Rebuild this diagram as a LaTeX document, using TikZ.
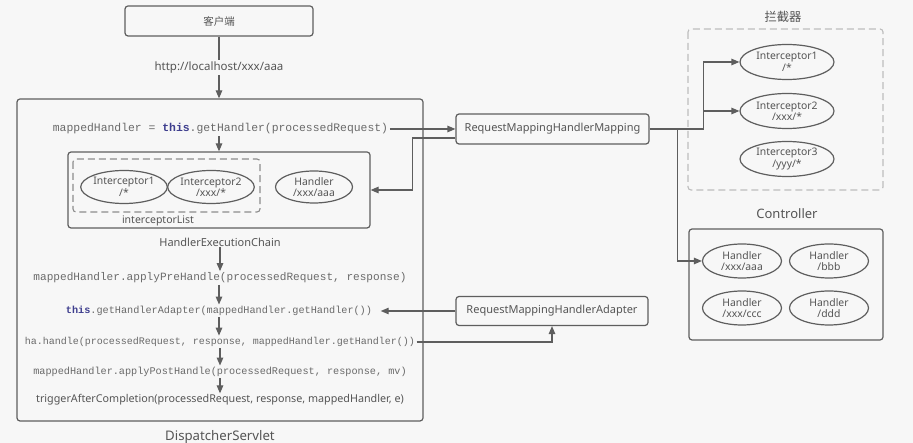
\documentclass[tikz,border=0pt]{standalone}
\usepackage{fontspec}
\setmainfont{Noto Sans}
\setmonofont{Liberation Mono}
\newfontfamily\cjk{Noto Sans CJK SC}
\usetikzlibrary{arrows.meta,shapes.geometric}
\definecolor{bg}{HTML}{F7F7F7}
\definecolor{ln}{HTML}{5E5E5E}
\definecolor{tx}{HTML}{555555}
\definecolor{cd}{HTML}{6A6A6A}
\definecolor{kw}{HTML}{3E3E8E}
\definecolor{dshA}{HTML}{8C8C8C}
\definecolor{dshB}{HTML}{BDBDBD}
\newcommand{\kwthis}{{\bfseries\color{kw}this}}
\begin{document}
\begin{tikzpicture}[x=1pt,y=-1pt,
  every node/.style={text=tx, font=\fontsize{10.5}{12}\selectfont},
  box/.style={draw=ln, line width=1.2pt, rounded corners=3pt, inner sep=0pt},
  oval/.style={draw=ln, line width=1.2pt, ellipse, inner sep=0pt, align=center,
    minimum width=78pt, minimum height=33pt, font=\fontsize{10.4}{11.5}\selectfont},
  code/.style={inner sep=1.5pt, text=cd, font=\ttfamily\fontsize{10.2}{12}\selectfont},
  arr/.style={draw=ln, line width=1.2pt, -{Triangle[length=8pt,width=6.5pt]}},
  con/.style={draw=ln, line width=1.2pt},
  lbl/.style={inner sep=1pt}]
\fill[bg] (0,0) rectangle (913,443);
\useasboundingbox (0,0) rectangle (913,443);

% client
\node[box, minimum width=188pt, minimum height=30pt] (client) at (219,21) {\cjk 客户端};

% DispatcherServlet
\node[box, minimum width=406pt, minimum height=322pt] (ds) at (220,260) {};
\node[lbl, font=\fontsize{13.2}{15}\selectfont] (dsl) at (220,437) {DispatcherServlet};

\draw[arr] (client.south) -- node[fill=bg, inner sep=2pt, text=tx, font=\fontsize{11.5}{13}\selectfont] {http://localhost/xxx/aaa} (ds.north -| client.south);

% code lines
\node[code, font=\ttfamily\fontsize{11.4}{13}\selectfont] (g1) at (220.5,129) {mappedHandler = \kwthis.getHandler(processedRequest)};

% HandlerExecutionChain
\node[box, minimum width=302pt, minimum height=76pt] (hec) at (219,190) {};
\draw[dshA, line width=1.1pt, dash pattern=on 7pt off 4pt, rounded corners=3pt] (73,159) rectangle (260,212);
\node[oval] (hi1) at (124,187) {Interceptor1\\/*};
\node[oval] (hi2) at (211,187) {Interceptor2\\/xxx/*};
\node[oval, minimum width=77pt, minimum height=32pt] (hh) at (314,187) {Handler\\/xxx/aaa};
\node[lbl] (ilist) at (158,221) {interceptorList};
\node[lbl, font=\fontsize{11}{12}\selectfont] (hecl) at (220,242) {HandlerExecutionChain};

\draw[arr] (g1.south -| hec.north) -- (hec.north);

\node[code, font=\ttfamily\fontsize{11.1}{13}\selectfont] (pre) at (220,278) {mappedHandler.applyPreHandle(processedRequest, response)};
\node[code] (ga) at (219,311) {\kwthis.getHandlerAdapter(mappedHandler.getHandler())};
\node[code, font=\ttfamily\fontsize{10}{12}\selectfont] (hd) at (220,342) {ha.handle(processedRequest, response, mappedHandler.getHandler())};
\node[code] (post) at (220,372) {mappedHandler.applyPostHandle(processedRequest, response, mv)};
\node[lbl, font=\fontsize{10.75}{12}\selectfont] (trig) at (220,400) {triggerAfterCompletion(processedRequest, response, mappedHandler, e)};

\draw[arr] (hecl.south) -- (pre.north -| hecl.south);
\draw[arr] (pre.south -| ga.south) -- (ga.north);
\draw[arr] (ga.south) -- (hd.north -| ga.south);
\draw[arr] (hd.south -| post.north) -- (post.north);
\draw[arr] (post.south) -- (trig.north -| post.south);

% RequestMapping boxes
\node[box, minimum width=193pt, minimum height=30pt, font=\fontsize{11}{12}\selectfont] (rmhm) at (552.5,129) {RequestMappingHandlerMapping};
\node[box, minimum width=192pt, minimum height=29pt, font=\fontsize{11}{12}\selectfont] (rmha) at (552,311) {RequestMappingHandlerAdapter};

\draw[arr] (g1.east) -- (rmhm.west);
\draw[arr] ([yshift=-9pt]rmhm.west) -- ++(-43,0) |- (hec.east);
\draw[arr, shorten >=7pt] (rmha.west) -- (ga.east);
\draw[arr] (hd.east) -| (rmha.south);

% Interceptors (right)
\node[lbl, font=\cjk\fontsize{12.3}{14}\selectfont] (ril) at (783,17) {拦截器};
\draw[dshB, line width=1.1pt, dash pattern=on 7pt off 4pt, rounded corners=3pt] (688,29) rectangle (883,190);
\node[oval, minimum width=94pt, minimum height=35pt] (ri1) at (787,62) {Interceptor1\\/*};
\node[oval, minimum width=94pt, minimum height=35pt] (ri2) at (787,111) {Interceptor2\\/xxx/*};
\node[oval, minimum width=94pt, minimum height=35pt] (ri3) at (787,159) {Interceptor3\\/yyy/*};

% Controller
\node[lbl, font=\fontsize{13}{14}\selectfont] (ctl) at (787,214) {Controller};
\node[box, minimum width=194pt, minimum height=111pt] (ctrl) at (786,284.5) {};
\node[oval, minimum width=79pt, minimum height=34pt] (c1) at (742,261) {Handler\\/xxx/aaa};
\node[oval, minimum width=79pt, minimum height=34pt] (c2) at (829,261) {Handler\\/bbb};
\node[oval, minimum width=79pt, minimum height=34pt] (c3) at (742,308) {Handler\\/xxx/ccc};
\node[oval, minimum width=79pt, minimum height=34pt] (c4) at (829,308) {Handler\\/ddd};

\draw[con] (rmhm.east) -- ++(54,0) coordinate (jA);
\draw[arr] (jA) |- (ri1.west);
\draw[arr] (jA) |- (ri2.west);
\draw[arr] ([xshift=28pt]rmhm.east) |- (c1.west);
\end{tikzpicture}
\end{document}
